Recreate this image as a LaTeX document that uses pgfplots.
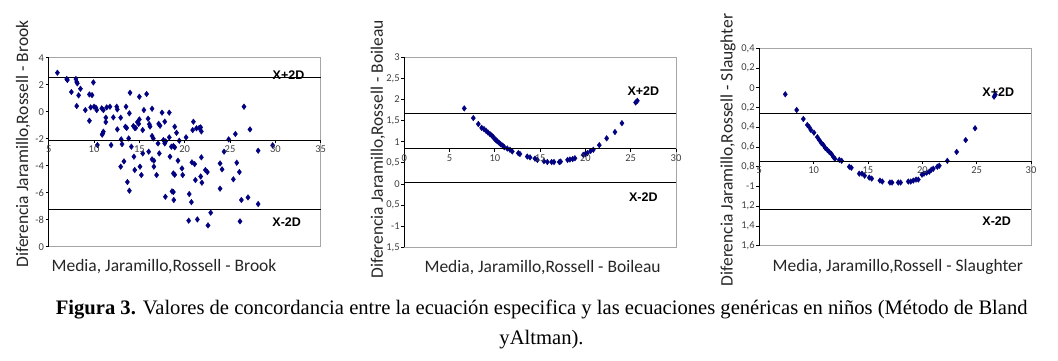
\documentclass[border=0pt]{standalone}
\usepackage{fontspec}
\setmainfont{Liberation Serif}
\newfontfamily\calib{Carlito}
\newfontfamily\arialf{Liberation Sans}
\usepackage{pgfplots}
\pgfplotsset{compat=1.18}

\definecolor{navy}{RGB}{0,0,128}

\pgfplotsset{
  ba/.style={
    scale only axis, anchor=south west, clip=false,
    axis x line=none, axis y line*=left,
    axis background/.style={draw=black!35, line width=0.8pt},
    y axis line style={black, line width=0.8pt, -},
    xtick=\empty,
    ytick align=outside, major tick length=3pt,
    tick style={black, line width=0.8pt},
    yticklabel style={font=\calib\fontsize{10.5}{11}\selectfont, text=black!75, inner sep=1.5pt},
    every axis y label/.style={rotate=90, anchor=center, font=\calib\fontsize{17.5}{19}\selectfont, text=black!85},
  },
  xa/.style={
    scale only axis, anchor=south west, height=2pt, ymin=0, ymax=1,
    hide y axis, axis x line*=bottom,
    x axis line style={black, line width=1pt, -},
    xtick align=outside, major tick length=3pt,
    tick style={black, line width=0.8pt},
    xticklabel style={font=\calib\fontsize{10.5}{11}\selectfont, text=black!75, inner sep=1.5pt, yshift=-1pt},
    /pgf/number format/assume math mode=true,
  },
  pts/.style={only marks, mark=diamond*, mark size=2.8pt, color=navy},
  lim/.style={black, line width=1pt},
}
\tikzset{
  xd/.style={font=\arialf\bfseries\fontsize{12.5}{14}\selectfont},
  xl/.style={font=\calib\fontsize{17.5}{19}\selectfont, text=black!85},
}

\begin{document}
\begin{tikzpicture}
\useasboundingbox (0,0) rectangle (1058pt,360pt);

% ---------- Brook ----------
\begin{axis}[ba, at={(48.7pt,113.3pt)}, width=272pt, height=189pt,
  xmin=5, xmax=35, ymin=-10, ymax=4,
  ytick={-10,-8,-6,-4,-2,0,2,4}, yticklabels={0,-8,-6,-4,-2,0,2,4},
  ylabel={Diferencia Jaramillo,Rossell - Brook},
  ylabel style={at={(axis description cs:-0.094,0.543)}}]
\addplot[lim] coordinates {(5,2.52) (35,2.52)};
\addplot[lim] coordinates {(5,-2.1) (35,-2.1)};
\addplot[lim] coordinates {(5,-7.23) (35,-7.23)};
\addplot[pts] coordinates {
(5.96,2.89) (6.99,2.42) (7.06,2.35) (7.5,1.46) (8.0,2.42) (8.09,2.2) (8.16,2.1)
(8.3,1.21) (8.5,1.7) (8.09,0.42) (9.04,0.12) (9.49,1.28) (9.78,1.23) (9.93,2.17)
(9.49,-0.67) (9.63,0.32) (10.0,0.37) (10.2,0.3) (10.3,0.12) (10.37,-2.47)
(10.85,0.25) (11.03,0.12) (11.4,0.32) (11.03,-1.48) (10.96,-1.6) (10.9,-1.7)
(11.3,-0.44) (11.3,-0.77) (11.76,0.37) (11.88,-2.47) (12.13,-0.42) (12.5,0.37)
(12.57,0.17) (12.57,-1.31) (12.94,-0.44) (13.09,-2.4) (13.0,-2.05) (13.53,0.37)
(13.46,-1.11) (13.6,-1.2) (12.94,-4.07) (13.3,-3.68) (13.68,-5.21) (13.9,-5.85)
(13.97,1.4) (13.9,-0.12) (13.82,-1.98) (14.12,-2.59) (14.34,-1.06) (14.49,-1.2)
(14.6,-1.2) (14.4,-3.33) (14.49,-4.32) (14.78,-0.77) (14.93,-0.9) (15.0,1.11)
(15.0,-0.57) (15.07,-4.07) (15.22,-4.69) (15.37,-1.36) (15.37,-3.09) (15.5,0.12)
(15.8,1.31) (15.96,-0.52) (16.03,-2.96) (16.1,-0.93) (16.18,-1.1) (16.4,0.22)
(16.4,-1.8) (16.54,-1.98) (16.4,-3.53) (16.6,-3.63) (16.6,-4.07) (16.9,-4.69)
(17.06,-2.35) (17.13,-0.9) (17.28,-1.04) (17.2,-3.09) (17.5,-0.07) (17.65,-2.1)
(17.8,-2.35) (17.9,-2.2) (17.8,-0.74) (17.87,-6.3) (18.3,-0.07) (18.3,-1.9)
(18.38,-3.33) (18.53,-2.59) (18.75,-2.54) (18.9,-2.64) (18.6,-5.9) (18.75,-5.95)
(18.75,-4.57) (18.9,-4.67) (18.8,-6.54) (18.9,-1.11) (19.1,-1.56) (19.26,-3.63)
(19.4,-2.15) (19.7,-4.2) (19.78,-4.69) (20.15,-1.9) (20.5,-6.1) (20.74,-6.7)
(20.44,-8.07) (20.88,-1.36) (20.96,-0.74) (20.8,-3.75) (21.1,-3.88) (21.18,-5.06)
(21.3,-1.23) (21.4,-7.98) (21.6,-1.2) (21.76,-1.16) (21.76,-4.8) (21.84,-1.46)
(21.84,-3.38) (21.9,-5.26) (22.28,-4.32) (22.5,-4.47) (22.57,-8.42) (22.87,-7.48)
(23.9,-3.83) (23.9,-5.7) (24.12,-4.27) (24.34,-2.96) (24.85,-2.05) (25.37,-5.01)
(25.59,-1.65) (25.74,-3.78) (26.03,-4.47) (26.1,-8.12) (26.25,-6.54) (26.54,0.37)
(26.98,-6.35) (27.2,-1.31) (28.1,-6.84) (28.1,-2.89) (29.7,-2.49)
};
\node[xd] at (axis cs:31.45,2.72) {X+2D};
\node[xd] at (axis cs:31.25,-8.15) {X-2D};
\node[xl] at (axis description cs:0.424,-0.107) {Media, Jaramillo,Rossell - Brook};
\coordinate (m1) at (axis cs:5,-2.1);
\end{axis}
\begin{axis}[xa, at={(m1)}, width=272pt, xmin=5, xmax=35, xtick={5,10,...,35}]
\addplot[draw=none] coordinates {(5,0)};
\end{axis}

% ---------- Boileau ----------
\begin{axis}[ba, at={(404.3pt,112.7pt)}, width=271.7pt, height=190pt,
  xmin=0, xmax=30, ymin=-1.5, ymax=3,
  ytick={-1.5,-1,-0.5,0,0.5,1,1.5,2,2.5,3},
  yticklabels={{1,5},-1,{0,5},0,{0,5},1,{1,5},2,{2,5},3},
  ylabel={Diferencia Jaramillo,Rossell - Boileau},
  ylabel style={at={(axis description cs:-0.097,0.515)}}]
\addplot[lim] coordinates {(0,1.66) (30,1.66)};
\addplot[lim] coordinates {(0,0.83) (30,0.83)};
\addplot[lim] coordinates {(0,0.03) (30,0.03)};
\addplot[pts] coordinates {
(6.62,1.79) (7.62,1.56) (8.17,1.42) (8.54,1.33) (8.8,1.30) (9.02,1.26) (9.24,1.22)
(9.46,1.18) (9.64,1.15) (9.83,1.11) (9.97,1.07) (10.12,1.04) (10.27,1.01) (10.45,0.98)
(10.64,0.94) (10.86,0.91) (11.04,0.87) (11.37,0.84) (11.67,0.81) (11.92,0.77)
(12.59,0.73) (12.77,0.71) (13.58,0.65) (13.88,0.63) (14.43,0.60) (14.69,0.57)
(15.42,0.54) (15.79,0.52) (16.27,0.52) (16.53,0.52) (17.11,0.52) (17.26,0.53)
(18.03,0.57) (18.29,0.58) (18.59,0.59) (18.84,0.61) (19.76,0.69) (19.99,0.71)
(20.21,0.73) (20.57,0.78) (20.87,0.81) (21.53,0.92) (22.34,1.08) (23.26,1.23)
(24.03,1.44) (25.54,1.93) (25.73,1.97)
};
\node[xd] at (axis cs:26.4,2.21) {X+2D};
\node[xd] at (axis cs:26.4,-0.30) {X-2D};
\node[xl] at (axis description cs:0.509,-0.104) {Media, Jaramillo,Rossell - Boileau};
\coordinate (m2) at (axis cs:0,0.83);
\end{axis}
\begin{axis}[xa, at={(m2)}, width=271.7pt, xmin=0, xmax=30, xtick={0,5,...,30}]
\addplot[draw=none] coordinates {(0,0)};
\end{axis}

% ---------- Slaughter ----------
\begin{axis}[ba, at={(759.3pt,114.3pt)}, width=271.7pt, height=197.4pt,
  xmin=5, xmax=30, ymin=-1.6, ymax=0.4,
  ytick={-1.6,-1.4,-1.2,-1,-0.8,-0.6,-0.4,-0.2,0,0.2,0.4},
  yticklabels={{1,6},{1,4},{1,2},-1,{0,8},{0,6},{0,4},{0,2},0,{0,2},{0,4}},
  ylabel={Diferencia Jaramillo,Rossell - Slaughter},
  ylabel style={at={(axis description cs:-0.115,0.485)}}]
\addplot[lim] coordinates {(5,-0.26) (30,-0.26)};
\addplot[lim] coordinates {(5,-0.745) (30,-0.745)};
\addplot[lim] coordinates {(5,-1.23) (30,-1.23)};
\addplot[pts] coordinates {
(7.39,-0.066) (8.44,-0.225) (9.05,-0.316) (9.42,-0.377) (9.6,-0.40) (9.75,-0.428)
(10.03,-0.455) (10.34,-0.50) (10.52,-0.53) (10.71,-0.56) (10.89,-0.58) (11.07,-0.61)
(11.26,-0.63) (11.44,-0.65) (11.63,-0.67) (11.81,-0.70) (11.96,-0.72) (12.36,-0.73)
(12.58,-0.74) (13.28,-0.80) (13.47,-0.81) (14.2,-0.87) (14.45,-0.87) (14.69,-0.89)
(15.12,-0.91) (15.34,-0.92) (16.1,-0.94) (16.32,-0.95) (17.02,-0.96) (17.21,-0.96)
(17.79,-0.96) (18.0,-0.96) (18.71,-0.95) (18.93,-0.95) (19.17,-0.94) (19.42,-0.93)
(19.63,-0.93) (19.97,-0.88) (20.15,-0.87) (20.4,-0.86) (20.64,-0.85) (20.83,-0.83)
(21.01,-0.82) (21.38,-0.80) (21.56,-0.79) (22.3,-0.74) (23.16,-0.65) (23.99,-0.53)
(24.85,-0.41) (26.6,-0.09) (26.72,-0.07)
};
\node[xd] at (axis cs:26.99,-0.046) {X+2D};
\node[xd] at (axis cs:26.84,-1.35) {X-2D};
\node[xl] at (axis description cs:0.51,-0.108) {Media, Jaramillo,Rossell - Slaughter};
\coordinate (m3) at (axis cs:5,-0.745);
\end{axis}
\begin{axis}[xa, at={(m3)}, width=271.7pt, xmin=5, xmax=30, xtick={5,10,...,30}]
\addplot[draw=none] coordinates {(5,0)};
\end{axis}

% ---------- caption ----------
\node[anchor=base, font=\fontsize{20.6}{24}\selectfont] at (541.7pt,46pt)
  {\textbf{Figura 3.} Valores de concordancia entre la ecuación especifica y las ecuaciones genéricas en niños (Método de Bland};
\node[anchor=base, font=\fontsize{20.6}{24}\selectfont] at (541.5pt,16pt) {yAltman).};
\end{tikzpicture}
\end{document}
